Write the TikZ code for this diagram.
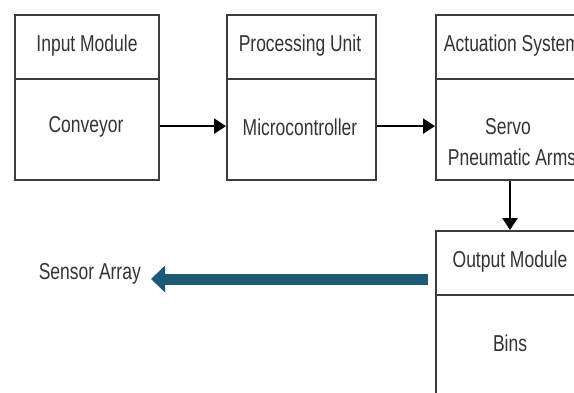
\documentclass[tikz,border=0pt]{standalone}
\usepackage{fontspec}
\setmainfont[FakeStretch=0.76]{Liberation Sans}
\usetikzlibrary{arrows.meta}
\definecolor{boxline}{HTML}{3C3C3C}
\definecolor{txt}{HTML}{333333}
\definecolor{teal}{HTML}{1D5A78}
\tikzset{
  part/.style={draw=boxline, line width=2.2pt, fill=white, inner sep=0pt, anchor=north west},
  lbl/.style={text=txt, font=\fontsize{23}{30}\selectfont, inner sep=0pt, align=center},
  arr/.style={draw=black, line width=2.4pt, -{Triangle[length=12pt,width=15pt]}},
  bigarr/.style={draw=teal, line width=11pt, -{Triangle[length=14pt,width=26pt]}}
}
\begin{document}
\begin{tikzpicture}[x=1pt,y=-1pt]
\useasboundingbox[fill=white] (0,0) rectangle (574,392);
\clip (0,0) rectangle (574,392);
% Input module
\node[part, minimum width=144pt, minimum height=64pt] (h1) at (14,14) {};
\node[part, minimum width=144pt, minimum height=101pt] (b1) at (14,78) {};
% Processing unit
\node[part, minimum width=149pt, minimum height=64pt] (h2) at (226,14) {};
\node[part, minimum width=149pt, minimum height=101pt] (b2) at (226,78) {};
% Actuation system
\node[part, minimum width=152pt, minimum height=64pt] (h3) at (435,14) {};
\node[part, minimum width=152pt, minimum height=101pt] (b3) at (435,78) {};
% Output module
\node[part, minimum width=152pt, minimum height=64pt] (h4) at (435,230) {};
\node[part, minimum width=152pt, minimum height=110pt] (b4) at (435,294) {};
% texts
\node[lbl] (t1) at (87,46) {Input Module};
\node[lbl] (t2) at (86,127) {Conveyor};
\node[lbl] (t3) at (300,46) {Processing Unit};
\node[lbl] (t4) at (300,127) {Microcontroller};
\node[lbl] (t5) at (512,46) {Actuation System};
\node[lbl] (t6) at (508,127) {Servo};
\node[lbl] (t7) at (512,157) {Pneumatic Arms};
\node[lbl] (t8) at (510,262) {Output Module};
\node[lbl] (t9) at (510,343) {Bins};
\node[lbl, anchor=east] (sa) at (141,274) {Sensor Array};
\coordinate (bstart) at (428,279);
\coordinate (bend) at (151,279);
% connectors
\draw[arr] ([yshift=3.5pt]b1.east) -- ([yshift=3.5pt]b2.west);
\draw[arr] ([yshift=3.5pt]b2.east) -- ([yshift=3.5pt]b3.west);
\draw[arr] (b3.south -| 510,0) -- (h4.north -| 510,0);
\draw[bigarr] (bstart) -- (bend);
\end{tikzpicture}
\end{document}
